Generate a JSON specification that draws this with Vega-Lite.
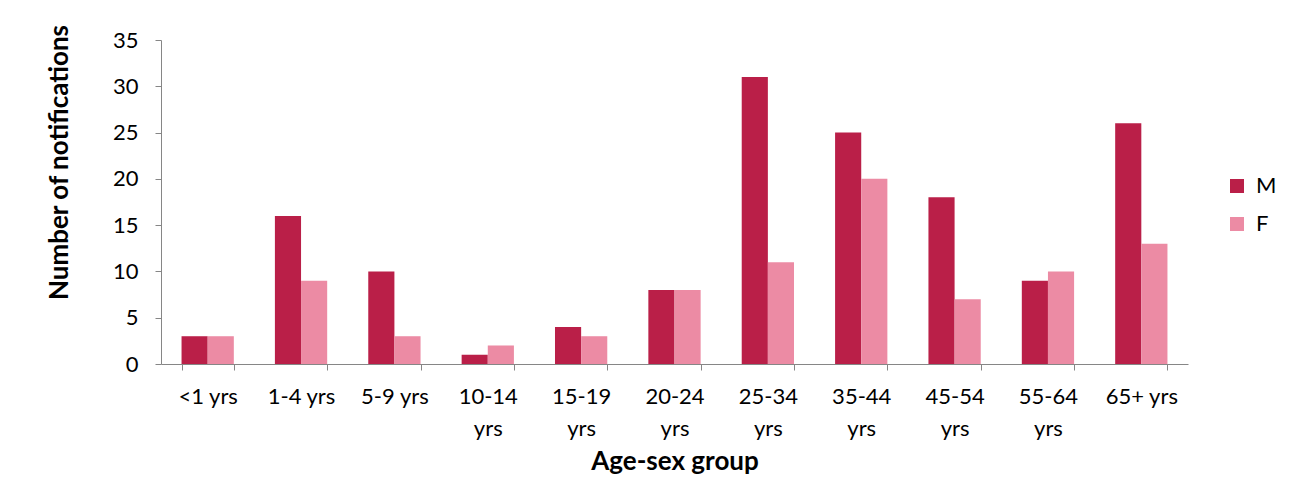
{
  "$schema": "https://vega.github.io/schema/vega-lite/v6.json",
  "autosize": "none",
  "width": 1027,
  "height": 324,
  "padding": {"left": 161, "top": 40, "right": 106, "bottom": 120},
  "background": "white",
  "data": {"values": [
    {"group": "<1 yrs", "sex": "M", "n": 3}, {"group": "<1 yrs", "sex": "F", "n": 3},
    {"group": "1-4 yrs", "sex": "M", "n": 16}, {"group": "1-4 yrs", "sex": "F", "n": 9},
    {"group": "5-9 yrs", "sex": "M", "n": 10}, {"group": "5-9 yrs", "sex": "F", "n": 3},
    {"group": "10-14 yrs", "sex": "M", "n": 1}, {"group": "10-14 yrs", "sex": "F", "n": 2},
    {"group": "15-19 yrs", "sex": "M", "n": 4}, {"group": "15-19 yrs", "sex": "F", "n": 3},
    {"group": "20-24 yrs", "sex": "M", "n": 8}, {"group": "20-24 yrs", "sex": "F", "n": 8},
    {"group": "25-34 yrs", "sex": "M", "n": 31}, {"group": "25-34 yrs", "sex": "F", "n": 11},
    {"group": "35-44 yrs", "sex": "M", "n": 25}, {"group": "35-44 yrs", "sex": "F", "n": 20},
    {"group": "45-54 yrs", "sex": "M", "n": 18}, {"group": "45-54 yrs", "sex": "F", "n": 7},
    {"group": "55-64 yrs", "sex": "M", "n": 9}, {"group": "55-64 yrs", "sex": "F", "n": 10},
    {"group": "65+ yrs", "sex": "M", "n": 26}, {"group": "65+ yrs", "sex": "F", "n": 13}
  ]},
  "mark": {"type": "bar"},
  "encoding": {
    "x": {
      "field": "group", "type": "nominal", "sort": null,
      "scale": {"paddingInner": 0.44, "paddingOuter": 0.22},
      "axis": {
        "title": "Age-sex group", "labelAngle": 0, "tickBand": "extent",
        "labelExpr": "length(datum.label) > 7 ? split(datum.label, ' ') : datum.label",
        "labelFontSize": 22, "labelFont": "Lato", "labelColor": "#000", "labelPadding": 16, "labelLineHeight": 32,
        "titleFontSize": 26, "titleFont": "Lato", "titleFontWeight": "bold", "titleColor": "#000", "titlePadding": 9,
        "domainColor": "#868686", "tickColor": "#868686", "tickSize": 6
      }
    },
    "xOffset": {"field": "sex", "type": "nominal", "sort": ["M", "F"]},
    "y": {
      "field": "n", "type": "quantitative",
      "scale": {"domain": [0, 35]},
      "axis": {
        "title": "Number of notifications", "values": [0, 5, 10, 15, 20, 25, 30, 35], "grid": false,
        "labelFontSize": 22, "labelFont": "Lato", "labelColor": "#000", "labelPadding": 17,
        "titleFontSize": 26, "titleFont": "Lato", "titleFontWeight": "bold", "titleColor": "#000", "titlePadding": 40,
        "titleY": 122,
        "domainColor": "#868686", "tickColor": "#868686", "tickSize": 6
      }
    },
    "color": {
      "field": "sex", "type": "nominal", "sort": ["M", "F"],
      "scale": {"domain": ["M", "F"], "range": ["#BA1F48", "#EC8BA4"]},
      "legend": {
        "title": null, "orient": "none", "legendX": 1065, "legendY": 135,
        "symbolType": "square", "symbolSize": 196, "symbolStrokeWidth": 0, "labelFontSize": 22, "labelFont": "Lato",
        "labelColor": "#000", "rowPadding": 16, "labelOffset": 8, "padding": 0
      }
    }
  },
  "config": {"view": {"stroke": null}}
}
